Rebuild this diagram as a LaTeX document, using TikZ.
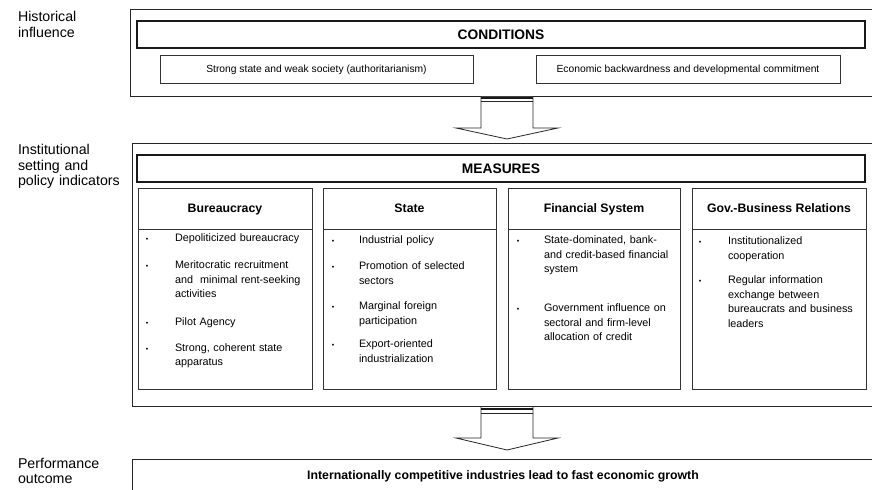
\documentclass[tikz,border=0pt]{standalone}
\usepackage{fontspec}
\setmainfont{Liberation Sans}
\begin{document}
\begin{tikzpicture}[x=1bp,y=-1bp,
  every node/.style={inner sep=0pt, outer sep=0pt},
  outerbox/.style={draw=black!85, line width=0.9bp, rectangle},
  headbox/.style={draw=black!90, line width=1.6bp, rectangle},
  headtext/.style={anchor=base, font=\fontsize{13.8bp}{16bp}\selectfont\bfseries},
  subbox/.style={draw=black!80, line width=0.7bp, rectangle},
  subtext/.style={anchor=base, font=\fontsize{10.3bp}{13bp}\selectfont},
  colbox/.style={draw=black!80, line width=0.7bp, rectangle},
  colhead/.style={anchor=base, font=\fontsize{12.3bp}{14bp}\selectfont\bfseries},
  sidelabel/.style={anchor=base west, align=left, text width=125bp, font=\fontsize{14.2bp}{15.2bp}\selectfont},
  itemtext/.style={anchor=base west, align=left, text width=134bp, font=\fontsize{10.8bp}{14.4bp}\selectfont},
  bul/.style={anchor=base, font=\fontsize{7bp}{8bp}\selectfont},
  blockarrow/.style={draw=black!85, line width=0.8bp, fill=white, line join=miter},
  outcome/.style={anchor=base, font=\fontsize{12.3bp}{14bp}\selectfont\bfseries}
]
\useasboundingbox (0,0) rectangle (872,490);
\clip (0,0) rectangle (872,490);

% ---------- side labels ----------
\node[sidelabel] (lab1) at (18,22) {Historical\\influence};
\node[sidelabel] (lab2) at (18,155) {Institutional\\setting and\\policy indicators};
\node[sidelabel] (lab3) at (18,468) {Performance\\outcome};

% ---------- conditions block ----------
\node[outerbox, minimum width=744bp, minimum height=87bp] (cond) at (502,52.5) {};
\node[headbox, minimum width=728bp, minimum height=27bp] (condhead) at (501,34.5) {};
\node[headtext] (condtxt) at (501,39.5) {CONDITIONS};
\node[subbox, minimum width=313bp, minimum height=28bp] (condL) at (316.5,69) {};
\node[subtext] (condLt) at (316.5,73) {Strong state and weak society (authoritarianism)};
\node[subbox, minimum width=304bp, minimum height=28bp] (condR) at (688,69) {};
\node[subtext] (condRt) at (688,73) {Economic backwardness and developmental commitment};

% ---------- measures block ----------
\node[outerbox, minimum width=742bp, minimum height=263bp] (meas) at (503,274.5) {};
\node[headbox, minimum width=728bp, minimum height=27bp] (meashead) at (501,168.5) {};
\node[headtext] (meastxt) at (501,173.5) {MEASURES};

% columns
\foreach \nm/\cx/\w/\ttl in {c1/225/174/Bureaucracy, c2/409.5/173/State, c3/594/172/Financial System, c4/779/174/Gov.-Business Relations}{
  \node[colbox, minimum width=\w bp, minimum height=201bp] (\nm) at (\cx,288.5) {};
  \draw[black!80, line width=0.7bp] (\nm.west |- 0,229) -- (\nm.east |- 0,229);
  \node[colhead] (\nm h) at (\cx,213) {\ttl};
}

% Bureaucracy items
\node[bul] (b1a) at (147,242) {•};
\node[itemtext] (b1) at (175,242) {Depoliticized bureaucracy};
\node[bul] (b2a) at (147,269) {•};
\node[itemtext] (b2) at (175,269) {Meritocratic recruitment\\and\ \ minimal rent-seeking\\activities};
\node[bul] (b3a) at (147,326) {•};
\node[itemtext] (b3) at (175,326) {Pilot Agency};
\node[bul] (b4a) at (147,351) {•};
\node[itemtext] (b4) at (175,351) {Strong, coherent state\\apparatus};

% State items
\node[bul] (s1a) at (333,244) {•};
\node[itemtext] (s1) at (359,244) {Industrial policy};
\node[bul] (s2a) at (333,270) {•};
\node[itemtext] (s2) at (359,270) {Promotion of selected\\sectors};
\node[bul] (s3a) at (333,310) {•};
\node[itemtext] (s3) at (359,310) {Marginal foreign\\participation};
\node[bul] (s4a) at (333,348) {•};
\node[itemtext] (s4) at (359,348) {Export-oriented\\industrialization};

% Financial items
\node[bul] (f1a) at (518,244) {•};
\node[itemtext] (f1) at (544,244) {State-dominated, bank-\\and credit-based financial\\system};
\node[bul] (f2a) at (518,312) {•};
\node[itemtext] (f2) at (544,312) {Government influence on\\sectoral and firm-level\\allocation of credit};

% Gov-business items
\node[bul] (g1a) at (700,245) {•};
\node[itemtext] (g1) at (728,245) {Institutionalized\\cooperation};
\node[bul] (g2a) at (700,284) {•};
\node[itemtext] (g2) at (728,284) {Regular information\\exchange between\\bureaucrats and business\\leaders};

% ---------- outcome block ----------
\node[outerbox, minimum width=742bp, minimum height=50bp, anchor=north] (out) at (503,459) {};
\node[outcome] (outtext) at (503,479) {Internationally competitive industries lead to fast economic growth};

% ---------- block arrows ----------
\draw[blockarrow] (481,97) -- (481,128) -- (456,128) -- (507,139) -- (558,128) -- (533,128) -- (533,97);
\draw[black!90, line width=1.6bp] (481,98) -- (533,98);
\draw[black!85, line width=0.7bp] (481,101) -- (533,101);

\draw[blockarrow] (481,407) -- (481,438) -- (456,438) -- (507,450) -- (558,438) -- (533,438) -- (533,407);
\draw[black!90, line width=1.6bp] (481,409) -- (533,409);
\draw[black!85, line width=0.7bp] (481,413) -- (533,413);
\end{tikzpicture}
\end{document}
